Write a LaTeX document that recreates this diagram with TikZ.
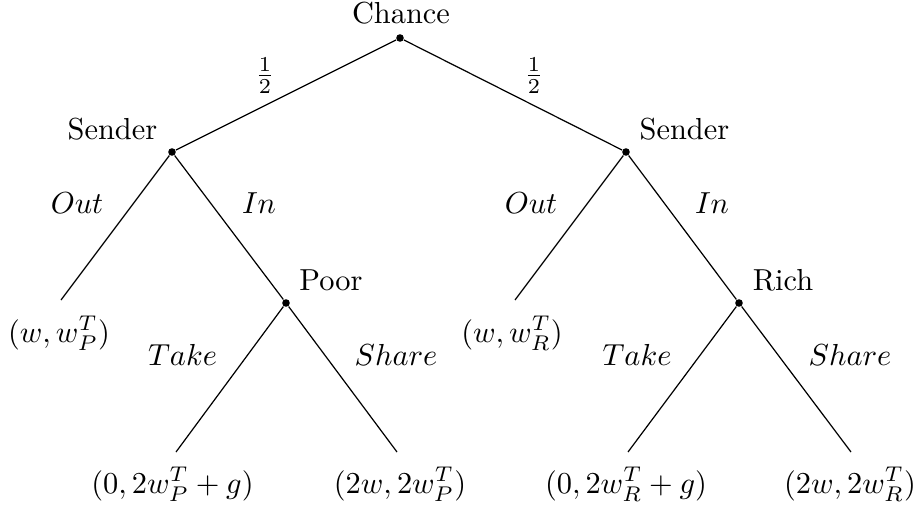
\documentclass[tikz,border=0pt]{standalone}
\begin{document}
\begin{tikzpicture}[x=0.329pt,y=-0.329pt,
  dotnode/.style={circle,fill=black,draw=none,inner sep=0pt,minimum size=2.5pt},
  lbl/.style={inner sep=0pt,anchor=base},
  edge/.style={draw=black,line width=0.4pt}]
\useasboundingbox (0,0) rectangle (918,510);
% decision nodes
\node[dotnode] (chance) at (400,38) {};
\node[dotnode] (sl) at (172,152) {};
\node[dotnode] (sr) at (626,152) {};
\node[dotnode] (poor) at (286,303) {};
\node[dotnode] (rich) at (739,303) {};
% leaf ends
\coordinate (outl) at (61,300);
\coordinate (outr) at (515,300);
\coordinate (takel) at (176,452);
\coordinate (sharel) at (397,452);
\coordinate (taker) at (628,452);
\coordinate (sharer) at (851,452);
% edges
\draw[edge] (chance) -- (sl);
\draw[edge] (chance) -- (sr);
\draw[edge] (sl) -- (outl);
\draw[edge] (sl) -- (poor);
\draw[edge] (sr) -- (outr);
\draw[edge] (sr) -- (rich);
\draw[edge] (poor) -- (takel);
\draw[edge] (poor) -- (sharel);
\draw[edge] (rich) -- (taker);
\draw[edge] (rich) -- (sharer);
% node labels
\node[lbl] (tchance) at (401,24) {Chance};
\node[lbl] (tsl) at (112.5,139) {Sender};
\node[lbl] (tsr) at (684.5,139) {Sender};
\node[lbl] (tpoor) at (331,290) {Poor};
\node[lbl] (trich) at (783,290) {Rich};
% probabilities
\node[inner sep=0pt] (pl) at (265,75.5) {$\frac{1}{2}$};
\node[inner sep=0pt] (pr) at (534,75.5) {$\frac{1}{2}$};
% actions
\node[lbl] (aol) at (77,213) {$Out$};
\node[lbl] (ail) at (259,213) {$In$};
\node[lbl] (aor) at (531,213) {$Out$};
\node[lbl] (air) at (712,213) {$In$};
\node[lbl] (atl) at (182.5,365) {$Take$};
\node[lbl] (asl) at (396,365) {$Share$};
\node[lbl] (atr) at (637,365) {$Take$};
\node[lbl] (asr) at (850,365) {$Share$};
% payoffs
\node[lbl] (pay1) at (59,342) {$(w,w_P^T)$};
\node[lbl] (pay2) at (512,342) {$(w,w_R^T)$};
\node[lbl] (pay3) at (172.5,493) {$(0,2w_P^T+g)$};
\node[lbl] (pay4) at (400,493) {$(2w,2w_P^T)$};
\node[lbl] (pay5) at (626,493) {$(0,2w_R^T+g)$};
\node[lbl] (pay6) at (850,493) {$(2w,2w_R^T)$};
\end{tikzpicture}
\end{document}
